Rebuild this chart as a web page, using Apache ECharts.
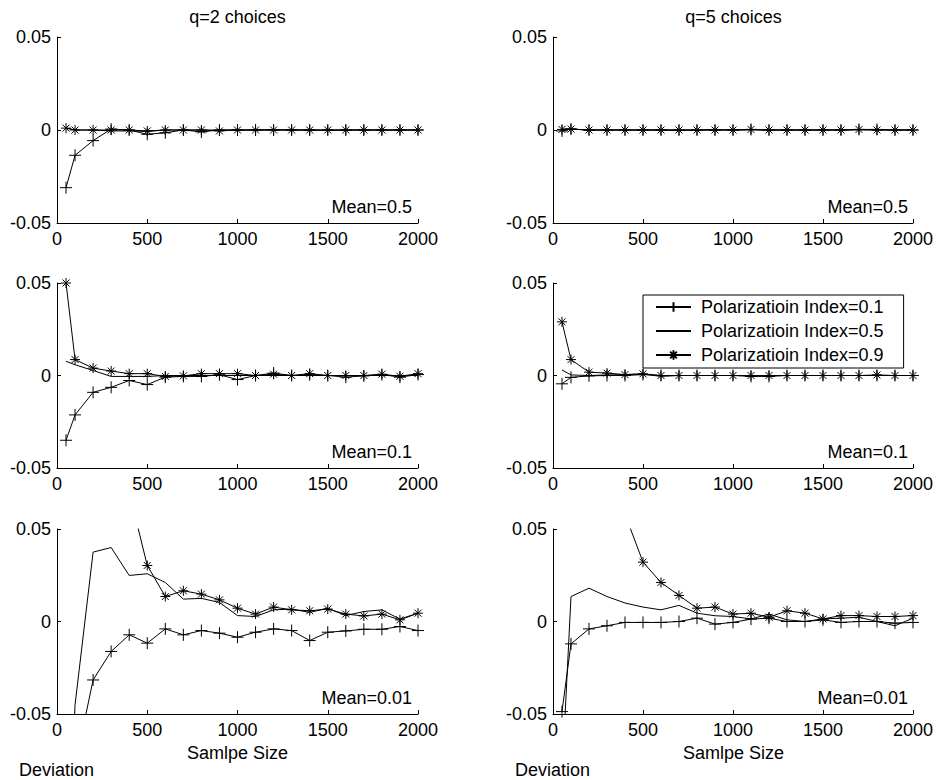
<!DOCTYPE html>
<html><head><meta charset="utf-8">
<script src="https://cdn.jsdelivr.net/npm/echarts@6/dist/echarts.min.js"></script>
<style>html,body{margin:0;padding:0;background:#fff}#c{width:936px;height:780px}</style>
</head><body><div id="c"></div>
<script>
// ---- data ----
const sampleSizes = [50,100,200,300,400,500,600,700,800,900,1000,1100,1200,1300,1400,1500,1600,1700,1800,1900,2000];
const seriesNames = ['Polarizatioin Index=0.1','Polarizatioin Index=0.5','Polarizatioin Index=0.9'];
const columnTitles = ['q=2 choices','q=5 choices'];
const meanLabels = ['Mean=0.5','Mean=0.1','Mean=0.01'];
const xAxisName = 'Samlpe Size';
const yAxisName = 'Deviation';
const xTicks = [0,500,1000,1500,2000];
const yTicks = [-0.05,0,0.05];

// q=2, Mean=0.5
const q2m05_pi01 = [-0.031,-0.0136,-0.0057,0.0005,0,-0.0023,-0.0015,0,-0.001,0,0,0,0,0,0,0,0,0,0,0,0];
const q2m05_pi05 = [0.001,0,0,-0.0005,-0.0005,-0.0008,0,0,0,0,0,0,0.0003,0,0,-0.0003,0,0,0,0,0];
const q2m05_pi09 = [0.001,0,0,0,0,-0.0005,0,0,0,-0.0005,0,0,0,0,0,0,0,0,0,0,0];
// q=5, Mean=0.5
const q5m05_pi01 = [-0.0005,0.0005,0,0,0,0,0,0,0,0,0,0.0003,0,0,0,0,0,0.0003,0.0003,0,0];
const q5m05_pi05 = [0.0005,0.0005,0,0,0,0,0,-0.0003,0,0.0003,0,0,0,0,0,0,0,0,0,0,0];
const q5m05_pi09 = [0.0003,0.0005,0,0,0,0,0,0,0,0,0,0.0003,0,0,0,0,0,0.0003,0,0,0];
// q=2, Mean=0.1
const q2m01_pi01 = [-0.035,-0.0213,-0.0091,-0.0064,-0.0027,-0.0049,-0.0009,-0.0005,-0.0005,0.0004,-0.0022,0,0.0013,0,0.0004,0,-0.0009,-0.0002,0.0005,-0.0009,0.0005];
const q2m01_pi05 = [0.0077,0.0058,0.0027,-0.0005,-0.0005,-0.0005,0,0,0,0,0,0,0,0,0,0,0,0,0,0,0];
const q2m01_pi09 = [0.05,0.0086,0.004,0.0024,0.001,0.001,-0.0005,-0.0002,0.001,0.001,0.001,0,0.0007,0,0.001,0,0,0,0.0007,-0.0004,0.001];
// q=5, Mean=0.1
const q5m01_pi01 = [-0.0045,-0.001,-0.0002,0,0,0.0005,0,0,0,0,0,-0.0005,-0.0005,0,0,0,0,0,0,0,0];
const q5m01_pi05 = [0.003,0.0003,0,0.0003,0.0005,0.0008,-0.0005,0,0,0,0,0,0,0,0,0,0,0,0,0,0];
const q5m01_pi09 = [0.029,0.0086,0.0018,0.0013,0.0005,0.0009,0,0,0,0,0,0,0,0,0,0,0,0,0.0003,0,0];
// q=2, Mean=0.01
const q2m001_pi01 = [-0.12,-0.078,-0.0316,-0.0162,-0.0072,-0.0117,-0.004,-0.0072,-0.0049,-0.0063,-0.0085,-0.0058,-0.004,-0.0049,-0.0103,-0.0058,-0.0051,-0.0042,-0.0042,-0.0027,-0.0049];
const q2m001_pi05 = [-0.15,-0.045,0.0375,0.04,0.0249,0.0258,0.0211,0.0121,0.0125,0.0103,0.0032,0.0027,0.0063,0.0067,0.0049,0.0072,0.0032,0.0054,0.0063,0.0013,0.0045];
const q2m001_pi09 = [0.3,0.2,0.12,0.09,0.07,0.0303,0.0135,0.0166,0.0148,0.0117,0.0072,0.004,0.0078,0.0063,0.0058,0.0067,0.004,0.003,0.004,0.0009,0.0045];
// q=5, Mean=0.01
const q5m001_pi01 = [-0.0487,-0.0121,-0.004,-0.0023,-0.0005,-0.0005,-0.0005,0,0.0018,-0.0014,-0.0005,0.0013,0.0018,0,0,0.0009,-0.0005,0,0,-0.0009,-0.0005];
const q5m001_pi05 = [-0.084,0.0135,0.018,0.0135,0.01,0.0078,0.0063,0.0087,0.0045,0.0031,0.0027,0.0014,0.004,0.0009,0,0.0014,0.0018,0.0023,0,-0.0023,0.0018];
const q5m001_pi09 = [0.2,0.15,0.1,0.075,0.058,0.0321,0.0211,0.0141,0.0072,0.0078,0.004,0.0045,0.0023,0.0058,0.0045,0.0014,0.0032,0.0032,0.0027,0.0027,0.0032];

const panels = [
  [q2m05_pi01, q2m05_pi05, q2m05_pi09],
  [q5m05_pi01, q5m05_pi05, q5m05_pi09],
  [q2m01_pi01, q2m01_pi05, q2m01_pi09],
  [q5m01_pi01, q5m01_pi05, q5m01_pi09],
  [q2m001_pi01, q2m001_pi05, q2m001_pi09],
  [q5m001_pi01, q5m001_pi05, q5m001_pi09]
];

// ---- layout / style ----
const FONT = "'Liberation Sans', Arial, sans-serif";
const FS = 18;
const gridLefts = [57, 553];
const gridTops = [37, 283, 529];
const gridHeights = [186, 185, 185];
const gridWidth = 361;

const plusPath = 'path://M0,6L12,6M6,0L6,12';
const starPath = 'path://M5,0L5,10M0,5L10,5M1.5,1.5L8.5,8.5M8.5,1.5L1.5,8.5';
const symbols = [plusPath, 'none', starPath];
const symbolSizes = [12, 0, 10];

const grids = [], xAxes = [], yAxes = [], series = [], graphics = [];
panels.forEach((panel, i) => {
  const row = Math.floor(i / 2), col = i % 2;
  grids.push({left: gridLefts[col], top: gridTops[row], width: gridWidth, height: gridHeights[row], containLabel: false});
  xAxes.push({
    type: 'value', gridIndex: i, min: xTicks[0], max: xTicks[xTicks.length-1], interval: xTicks[1]-xTicks[0],
    axisLine: {show: true, onZero: false, lineStyle: {color: '#000', width: 1}},
    axisTick: {show: true, inside: true, length: 4, lineStyle: {color: '#000'}},
    axisLabel: {color: '#000', fontSize: FS, fontFamily: FONT, margin: 7, formatter: v => String(v)},
    splitLine: {show: false}
  });
  yAxes.push({
    type: 'value', gridIndex: i, min: yTicks[0], max: yTicks[yTicks.length-1], interval: yTicks[1]-yTicks[0],
    axisLine: {show: true, onZero: false, lineStyle: {color: '#000', width: 1}},
    axisTick: {show: true, inside: true, length: 4, lineStyle: {color: '#000'}},
    axisLabel: {color: '#000', fontSize: FS, fontFamily: FONT, margin: 6,
      formatter: v => (Math.abs(v) < 1e-12 ? '0' : String(+v.toFixed(2)))},
    splitLine: {show: false}
  });
  panel.forEach((vals, k) => {
    series.push({
      name: seriesNames[k], type: 'line', xAxisIndex: i, yAxisIndex: i,
      data: sampleSizes.map((x, j) => [x, vals[j]]),
      symbol: symbols[k], symbolSize: symbolSizes[k], showAllSymbol: true,
      clip: true, silent: true, animation: false,
      lineStyle: {color: '#000', width: 1},
      itemStyle: {color: 'rgba(0,0,0,0)', borderColor: '#000', borderWidth: 1},
      emphasis: {disabled: true}
    });
  });
  graphics.push({type: 'text', x: gridLefts[col] + gridWidth - 6, y: gridTops[row] + gridHeights[row] - 16,
    style: {text: meanLabels[row], fill: '#000', font: FS + 'px ' + FONT, textAlign: 'right', textVerticalAlign: 'middle'}});
});
columnTitles.forEach((t, col) => {
  graphics.push({type: 'text', x: gridLefts[col] + gridWidth/2, y: 17,
    style: {text: t, fill: '#000', font: FS + 'px ' + FONT, textAlign: 'center', textVerticalAlign: 'middle'}});
  graphics.push({type: 'text', x: gridLefts[col] + gridWidth/2, y: 753,
    style: {text: xAxisName, fill: '#000', font: FS + 'px ' + FONT, textAlign: 'center', textVerticalAlign: 'middle'}});
  graphics.push({type: 'text', x: gridLefts[col] - 38, y: 770,
    style: {text: yAxisName, fill: '#000', font: FS + 'px ' + FONT, textAlign: 'left', textVerticalAlign: 'middle'}});
});

const chart = echarts.init(document.getElementById('c'), null, {renderer: 'svg'});
chart.setOption({
  animation: false,
  backgroundColor: '#fff',
  textStyle: {fontFamily: FONT, color: '#000'},
  grid: grids, xAxis: xAxes, yAxis: yAxes, series: series,
  legend: {
    data: seriesNames.map((n, k) => k === 1
      ? {name: n, itemStyle: {color: 'rgba(0,0,0,0)', borderWidth: 0, borderColor: 'rgba(0,0,0,0)'}}
      : {name: n}),
    orient: 'vertical', left: 643, top: 295,
    itemWidth: 35, itemHeight: 12, itemGap: 6,
    padding: [3, 20, 4, 12],
    borderColor: '#000', borderWidth: 1, backgroundColor: '#fff',
    textStyle: {color: '#000', fontSize: FS, fontFamily: FONT, padding: [0, 0, 0, 5]},
    selectedMode: false
  },
  graphic: graphics
});
</script></body></html>
